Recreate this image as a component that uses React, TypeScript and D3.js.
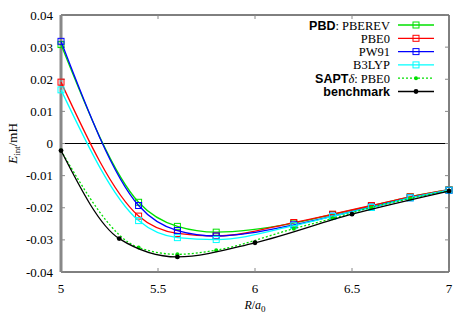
import React from "react";
import * as d3 from "d3";

const W = 469;
const H = 328;

// DFT grid
const rDft = [5, 5.4, 5.6, 5.8, 6.2, 6.4, 6.6, 6.8, 7];
const pberev = [0.0308, -0.0183, -0.0258, -0.0276, -0.0248, -0.0221, -0.0194, -0.0166, -0.0144];
const pbe0 = [0.0191, -0.0226, -0.028, -0.0288, -0.0246, -0.022, -0.0193, -0.0166, -0.0144];
const pw91 = [0.0318, -0.0193, -0.0271, -0.0288, -0.0253, -0.0226, -0.0198, -0.0169, -0.0146];
const b3lyp = [0.0167, -0.024, -0.0293, -0.0299, -0.0256, -0.0227, -0.0199, -0.0169, -0.0145];
const sapt = [-0.0022, -0.0324, -0.0345, -0.0332, -0.0265, -0.0233, -0.0199, -0.0171, -0.0147];

const rBench = [5, 5.3, 5.6, 6.0, 6.5, 7];
const bench = [-0.0022, -0.0296, -0.0353, -0.0309, -0.022, -0.0148];

const xTicks = [5, 5.5, 6, 6.5, 7];
const yTicks = [0.04, 0.03, 0.02, 0.01, 0, -0.01, -0.02, -0.03, -0.04];

type Series = {
  name: string;
  xs: number[];
  ys: number[];
  color: string;
  dash?: string;
  marker: "square" | "dot" | "smalldot";
};

const series: Series[] = [
  { name: "PBEREV", xs: rDft, ys: pberev, color: "#00e000", marker: "square" },
  { name: "PBE0", xs: rDft, ys: pbe0, color: "#ff0000", marker: "square" },
  { name: "PW91", xs: rDft, ys: pw91, color: "#0000ff", marker: "square" },
  { name: "B3LYP", xs: rDft, ys: b3lyp, color: "#00ffff", marker: "square" },
  { name: "SAPT", xs: rDft, ys: sapt, color: "#00e000", dash: "2,2", marker: "smalldot" },
  { name: "benchmark", xs: rBench, ys: bench, color: "#000000", marker: "dot" },
];

const serif = "'Liberation Serif', 'DejaVu Serif', serif";
const sans = "'Liberation Sans', Arial, sans-serif";

const Marker = ({ m, x, y, color }: { m: string; x: number; y: number; color: string }) => {
  if (m === "square")
    return <rect x={x - 3} y={y - 3} width={6} height={6} fill="none" stroke={color} strokeWidth={1} />;
  if (m === "dot") return <circle cx={x} cy={y} r={2.4} fill={color} />;
  return <circle cx={x} cy={y} r={2} fill={color} />;
};

export default function App() {
  const left = 61;
  const right = 449;
  const top = 15;
  const bottom = 272;
  const x = d3.scaleLinear().domain([5, 7]).range([left, right]);
  const y = d3.scaleLinear().domain([-0.04, 0.04]).range([bottom, top]);
  const line = d3
    .line<[number, number]>()
    .x((d) => x(d[0]))
    .y((d) => y(d[1]))
    .curve(d3.curveMonotoneX);

  const legendLabels = [
    <>
      <tspan fontFamily={sans} fontWeight="bold">PBD</tspan>: PBEREV
    </>,
    <>PBE0</>,
    <>PW91</>,
    <>B3LYP</>,
    <>
      <tspan fontFamily={sans} fontWeight="bold">SAPT</tspan>
      <tspan fontStyle="italic">δ</tspan>: PBE0
    </>,
    <tspan fontFamily={sans} fontWeight="bold">benchmark</tspan>,
  ];

  return (
    <svg width={W} height={H} style={{ position: "absolute", left: 0, top: 0 }}>
      <rect width={W} height={H} fill="#fff" />
      {/* frame */}
      <line x1={left} x2={right} y1={top} y2={top} stroke="#000" />
      <line x1={right} x2={right} y1={top} y2={bottom} stroke="#000" />
      <line x1={left} x2={right} y1={bottom} y2={bottom} stroke="#000" />
      <line x1={left} x2={left} y1={top} y2={bottom} stroke="#888" strokeWidth={3} />
      <line x1={left} x2={right} y1={y(0)} y2={y(0)} stroke="#000" />

      {xTicks.map((t) => (
        <g key={"x" + t}>
          <line x1={x(t)} x2={x(t)} y1={bottom} y2={bottom - 4} stroke="#888" />
          <line x1={x(t)} x2={x(t)} y1={top} y2={top + 4} stroke="#888" />
          <text x={x(t)} y={293} textAnchor="middle" fontFamily={serif} fontSize={13}>
            {t}
          </text>
        </g>
      ))}
      {yTicks.map((t) => (
        <g key={"y" + t}>
          <line x1={left} x2={left + 4} y1={y(t)} y2={y(t)} stroke="#888" />
          <line x1={right} x2={right - 4} y1={y(t)} y2={y(t)} stroke="#888" />
          <text x={53} y={y(t) + 4.5} textAnchor="end" fontFamily={serif} fontSize={13}>
            {t === 0 ? "0" : t.toFixed(2)}
          </text>
        </g>
      ))}

      <text x={255} y={309} textAnchor="middle" fontFamily={serif} fontSize={12}>
        <tspan fontStyle="italic">R</tspan>/<tspan fontStyle="italic">a</tspan>
        <tspan fontSize={9} dy={3}>0</tspan>
      </text>
      <text transform={`translate(17,${y(0)}) rotate(-90)`} textAnchor="middle" fontFamily={serif} fontSize={13}>
        <tspan fontStyle="italic">E</tspan>
        <tspan fontSize={9} dy={3}>int</tspan>
        <tspan dy={-3}>/mH</tspan>
      </text>

      {series.map((s) => {
        const pts = s.xs.map((v, i) => [v, s.ys[i]] as [number, number]);
        return (
          <g key={s.name}>
            <path d={line(pts) || ""} fill="none" stroke={s.color} strokeWidth={1.3} strokeDasharray={s.dash} />
            {pts.map((p, i) => (
              <Marker key={i} m={s.marker} x={x(p[0])} y={y(p[1])} color={s.color} />
            ))}
          </g>
        );
      })}

      {series.map((s, i) => {
        const ly = 25 + i * 13.3;
        return (
          <g key={"leg" + s.name}>
            <text x={390} y={ly + 4.5} textAnchor="end" fontFamily={serif} fontSize={12.5}>
              {legendLabels[i]}
            </text>
            <line x1={398} x2={434} y1={ly} y2={ly} stroke={s.color} strokeWidth={1.3} strokeDasharray={s.dash} />
            <Marker m={s.marker} x={416} y={ly} color={s.color} />
          </g>
        );
      })}
    </svg>
  );
}
